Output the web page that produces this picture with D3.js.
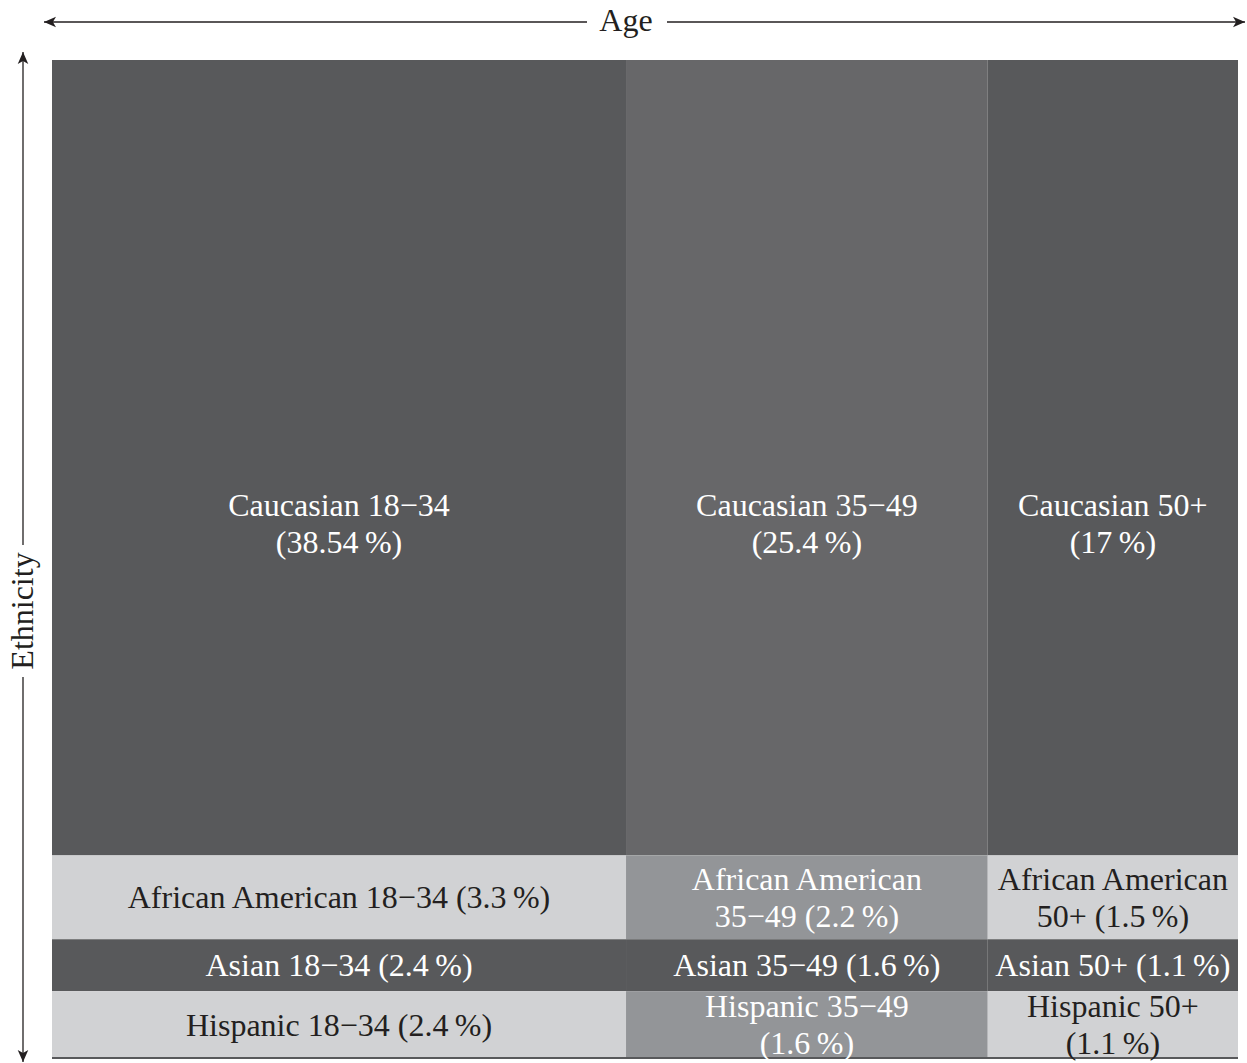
<!DOCTYPE html>
<html>
<head>
<meta charset="utf-8">
<script src="https://cdn.jsdelivr.net/npm/d3@7"></script>
<style>
  html, body { margin: 0; padding: 0; background: #fff; }
  svg { display: block; font-family: "Liberation Serif", "Times New Roman", serif; }
</style>
</head>
<body>
<svg id="chart"></svg>
<script>
// categories
const ages = ["18\u221234", "35\u221249", "50+"];
const ethnicities = ["Caucasian", "African American", "Asian", "Hispanic"];

// percentages printed in each tile, one array per ethnicity (by age group)
const caucasian = [38.54, 25.4, 17];
const africanAmerican = [3.3, 2.2, 1.5];
const asian = [2.4, 1.6, 1.1];
const hispanic = [2.4, 1.6, 1.1];

// tile extents as drawn in the picture (share of plot width / height)
const ageShare = [48.4, 30.5, 21.1];
const ethnicityShare = [79.7, 8.4, 5.2, 6.7];

// where each label wraps: "pct" = before the percentage, "age" = before the age, "none"
const labelBreaks = [
  ["pct", "pct", "pct"],
  ["none", "age", "age"],
  ["none", "none", "none"],
  ["none", "pct", "pct"]
];

const percents = [caucasian, africanAmerican, asian, hispanic];

const WIDTH = 1247;
const HEIGHT = 1063;
const PLOT = { LEFT: 52, RIGHT: 1238, TOP: 60, BOTTOM: 1058 };
const FONT = 32;
const LINE = 37;
const INK = "#231f20";

const svg = d3.select("#chart")
  .attr("width", WIDTH)
  .attr("height", HEIGHT);

const xScale = d3.scaleLinear()
  .domain([0, d3.sum(ageShare)])
  .range([PLOT.LEFT, PLOT.RIGHT]);
const yScale = d3.scaleLinear()
  .domain([0, d3.sum(ethnicityShare)])
  .range([PLOT.TOP, PLOT.BOTTOM]);

const xStart = d3.cumsum([0].concat(ageShare));
const yStart = d3.cumsum([0].concat(ethnicityShare));

/**
 * Tile fill by row / column
 */
function tileFill(row, col) {
  const light = row === 1 || row === 3;
  if (light) return col === 1 ? "#939598" : "#d1d2d4";
  if (row === 0 && col === 1) return "#676769";
  return "#58595b";
}

function fmt(v) {
  return `(${v}\u2009%)`;
}

function labelLines(row, col) {
  const e = ethnicities[row], a = ages[col], p = fmt(percents[row][col]);
  const b = labelBreaks[row][col];
  if (b === "pct") return [`${e} ${a}`, p];
  if (b === "age") return [e, `${a} ${p}`];
  return [`${e} ${a} ${p}`];
}

const cells = [];
ethnicities.forEach((e, r) => {
  ages.forEach((a, c) => {
    cells.push({
      row: r, col: c,
      x0: xScale(xStart[c]), x1: xScale(xStart[c + 1]),
      y0: yScale(yStart[r]), y1: yScale(yStart[r + 1])
    });
  });
});

// tiles
svg.append("g")
  .selectAll("rect")
  .data(cells)
  .join("rect")
    .attr("x", d => d.x0)
    .attr("y", d => d.y0)
    .attr("width", d => d.x1 - d.x0)
    .attr("height", d => d.y1 - d.y0)
    .attr("fill", d => tileFill(d.row, d.col));

// bottom edge
svg.append("line")
  .attr("x1", PLOT.LEFT).attr("x2", PLOT.RIGHT)
  .attr("y1", PLOT.BOTTOM).attr("y2", PLOT.BOTTOM)
  .attr("stroke", "#58595b")
  .attr("stroke-width", 2);

// labels
const labels = svg.append("g")
  .attr("font-size", FONT)
  .attr("text-anchor", "middle")
  .selectAll("text")
  .data(cells)
  .join("text")
    .attr("fill", d => {
      const f = tileFill(d.row, d.col);
      return f === "#d1d2d4" ? INK : "#fff";
    })
    .attr("transform", d => {
      const h = d.y1 - d.y0;
      const cy = d.y0 + h * (h > 300 ? 0.583 : 0.5);
      return `translate(${(d.x0 + d.x1) / 2},${cy})`;
    });

labels.each(function(d) {
  const lines = labelLines(d.row, d.col);
  const t = d3.select(this);
  lines.forEach((l, i) => {
    t.append("tspan")
      .attr("x", 0)
      .attr("y", (i - (lines.length - 1) / 2) * LINE)
      .attr("dominant-baseline", "central")
      .text(l);
  });
});

// axis arrows
const defs = svg.append("defs");
defs.append("marker")
  .attr("id", "tip")
  .attr("viewBox", "0 0 10 10")
  .attr("refX", 10).attr("refY", 5)
  .attr("markerUnits", "userSpaceOnUse")
  .attr("markerWidth", 12).attr("markerHeight", 12)
  .attr("orient", "auto-start-reverse")
  .append("path")
    .attr("d", "M0,0.6 L10,5 L0,9.4 L2.6,5 Z")
    .attr("fill", INK);

const AGE_Y = 22;
const ETH_X = 23;
const arrows = svg.append("g")
  .attr("stroke", INK)
  .attr("stroke-width", 1.3)
  .attr("fill", "none");

arrows.append("line")
  .attr("x1", 44).attr("x2", 587)
  .attr("y1", AGE_Y).attr("y2", AGE_Y)
  .attr("marker-start", "url(#tip)");
arrows.append("line")
  .attr("x1", 667).attr("x2", 1245)
  .attr("y1", AGE_Y).attr("y2", AGE_Y)
  .attr("marker-end", "url(#tip)");
arrows.append("line")
  .attr("x1", ETH_X).attr("x2", ETH_X)
  .attr("y1", 52).attr("y2", 545)
  .attr("marker-start", "url(#tip)");
arrows.append("line")
  .attr("x1", ETH_X).attr("x2", ETH_X)
  .attr("y1", 677).attr("y2", 1062)
  .attr("marker-end", "url(#tip)");

svg.append("text")
  .attr("x", 626)
  .attr("y", 31)
  .attr("font-size", FONT)
  .attr("text-anchor", "middle")
  .attr("fill", INK)
  .text("Age");

svg.append("text")
  .attr("transform", "translate(33,611) rotate(-90)")
  .attr("font-size", FONT)
  .attr("text-anchor", "middle")
  .attr("fill", INK)
  .text("Ethnicity");
</script>
</body>
</html>
